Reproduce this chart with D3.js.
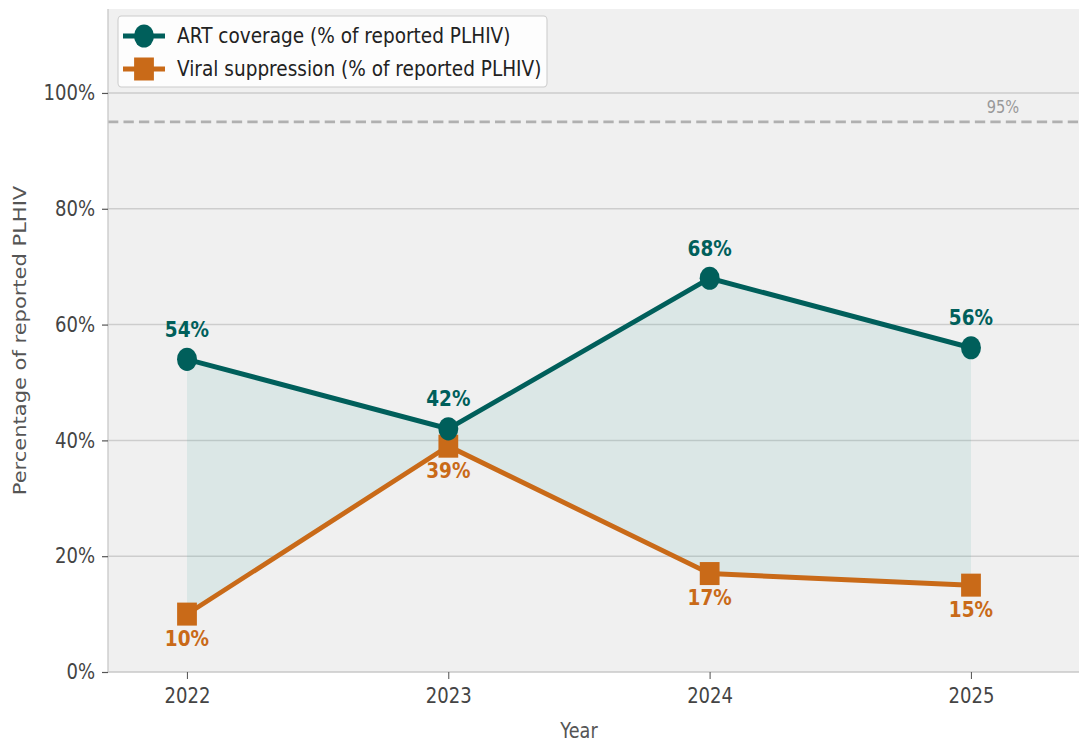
<!DOCTYPE html>
<html>
<head>
	<meta charset="UTF-8">
	<title>ART coverage and viral suppression</title>
	<script src="https://cdn.jsdelivr.net/npm/d3@7"></script>
	<style>
		body { margin: 0; background: #fff; }
		text { font-family: "DejaVu Sans", sans-serif; }
	</style>
</head>
<body>
	<script type="text/javascript">
		// data
		var years = [2022, 2023, 2024, 2025];
		var artCoverage = [54, 42, 68, 56];
		var viralSuppression = [10, 39, 17, 15];
		var yTicks = [0, 20, 40, 60, 80, 100];
		var target = 95;
		var seriesNames = ["ART coverage (% of reported PLHIV)", "Viral suppression (% of reported PLHIV)"];

		var teal = "#005f5b", orange = "#c96a18";

		// the picture is slightly squeezed sideways, so draw wide and squash
		var sx = 0.86;
		var W = 1079 / sx, H = 742;
		var svg = d3.select("body")
					.append("svg")
					.attr("width", 1079)
					.attr("height", H)
					.attr("viewBox", "0 0 " + W + " " + H)
					.attr("preserveAspectRatio", "none");

		var plotLeft = 108 / sx, plotRight = W, plotTop = 9, plotBottom = 672;

		var x = d3.scaleLinear()
					.domain([2022 - 79 / 261.33, 2025 + 108 / 261.33])
					.range([plotLeft, plotRight]);
		var y = d3.scaleLinear()
					.domain([0, 114.5])
					.range([plotBottom, plotTop]);

		// plot background
		svg.append("rect")
			.attr("x", plotLeft).attr("y", plotTop)
			.attr("width", plotRight - plotLeft).attr("height", plotBottom - plotTop)
			.attr("fill", "#f0f0f0");

		// grid
		svg.append("g").selectAll("line")
			.data(yTicks.slice(1))
			.enter().append("line")
			.attr("x1", plotLeft).attr("x2", plotRight)
			.attr("y1", function(d) { return y(d); })
			.attr("y2", function(d) { return y(d); })
			.attr("stroke", "#cdcdcd")
			.attr("stroke-width", 1.5);

		// 95% target line
		svg.append("line")
			.attr("x1", plotLeft).attr("x2", plotRight)
			.attr("y1", y(target)).attr("y2", y(target))
			.attr("stroke", "#b0b0b0")
			.attr("stroke-width", 2.6)
			.attr("stroke-dasharray", "12,6");
		svg.append("text")
			.attr("x", 1003 / sx)
			.attr("y", y(target) - 15)
			.attr("text-anchor", "middle")
			.attr("dominant-baseline", "central")
			.attr("font-size", 17)
			.attr("fill", "#999")
			.text(target + "%");

		// fill between the two series
		var area = d3.area()
					.x(function(d, i) { return x(years[i]); })
					.y0(function(d, i) { return y(viralSuppression[i]); })
					.y1(function(d) { return y(d); });
		svg.append("path")
			.attr("d", area(artCoverage))
			.attr("fill", "#2a9a98")
			.attr("fill-opacity", 0.1);

		var line = d3.line()
					.x(function(d, i) { return x(years[i]); })
					.y(function(d) { return y(d); });

		// viral suppression
		svg.append("path")
			.attr("d", line(viralSuppression))
			.attr("fill", "none")
			.attr("stroke", orange)
			.attr("stroke-width", 5)
			.attr("stroke-linejoin", "round");
		svg.append("g").selectAll("rect")
			.data(viralSuppression)
			.enter().append("rect")
			.attr("x", function(d, i) { return x(years[i]) - 11.5; })
			.attr("y", function(d) { return y(d) - 11.5; })
			.attr("width", 23).attr("height", 23)
			.attr("fill", orange);

		// ART coverage
		svg.append("path")
			.attr("d", line(artCoverage))
			.attr("fill", "none")
			.attr("stroke", teal)
			.attr("stroke-width", 5)
			.attr("stroke-linejoin", "round");
		svg.append("g").selectAll("circle")
			.data(artCoverage)
			.enter().append("circle")
			.attr("cx", function(d, i) { return x(years[i]); })
			.attr("cy", function(d) { return y(d); })
			.attr("r", 11.6)
			.attr("fill", teal);

		// value labels
		svg.append("g").selectAll("text")
			.data(artCoverage)
			.enter().append("text")
			.attr("x", function(d, i) { return x(years[i]); })
			.attr("y", function(d) { return y(d) - 30; })
			.attr("text-anchor", "middle")
			.attr("dominant-baseline", "central")
			.attr("font-size", 21.5)
			.attr("font-weight", "bold")
			.attr("fill", teal)
			.text(function(d) { return d + "%"; });
		svg.append("g").selectAll("text")
			.data(viralSuppression)
			.enter().append("text")
			.attr("x", function(d, i) { return x(years[i]); })
			.attr("y", function(d) { return y(d) + 24; })
			.attr("text-anchor", "middle")
			.attr("dominant-baseline", "central")
			.attr("font-size", 21.5)
			.attr("font-weight", "bold")
			.attr("fill", orange)
			.text(function(d) { return d + "%"; });

		// axes
		var yAxis = svg.append("g")
			.attr("transform", "translate(" + plotLeft + ",0)")
			.call(d3.axisLeft(y).tickValues(yTicks).tickSize(7).tickPadding(8)
				.tickFormat(function(d) { return d + "%"; }));
		var xAxis = svg.append("g")
			.attr("transform", "translate(0," + plotBottom + ")")
			.call(d3.axisBottom(x).tickValues(years).tickSize(7).tickPadding(9)
				.tickFormat(d3.format("d")));
		[yAxis, xAxis].forEach(function(a) {
			a.select(".domain").attr("stroke", "#c8c8c8").attr("stroke-width", 1.5);
			a.selectAll(".tick line").attr("stroke", "#555").attr("stroke-width", 1.2);
			a.selectAll(".tick text").attr("font-size", 21).attr("fill", "#444")
				.attr("font-family", "DejaVu Sans");
		});
		yAxis.select(".domain").attr("d", "M0," + plotTop + "V" + plotBottom);
		xAxis.select(".domain").attr("d", "M" + plotLeft + ",0H" + plotRight);

		// axis titles
		svg.append("text")
			.attr("x", x((years[0] + years[3]) / 2))
			.attr("y", 731)
			.attr("text-anchor", "middle")
			.attr("dominant-baseline", "central")
			.attr("font-size", 20.5)
			.attr("fill", "#555")
			.text("Year");
		svg.append("text")
			.attr("transform", "translate(" + (20 / sx) + "," + ((plotTop + plotBottom) / 2) + ") rotate(-90)")
			.attr("text-anchor", "middle")
			.attr("dominant-baseline", "central")
			.attr("font-size", 21)
			.attr("fill", "#555")
			.text("Percentage of reported PLHIV");

		// legend
		var legend = svg.append("g");
		legend.append("rect")
			.attr("x", 118 / sx).attr("y", 16)
			.attr("width", (547 - 118) / sx).attr("height", 71)
			.attr("rx", 4)
			.attr("fill", "#fff").attr("fill-opacity", 0.85)
			.attr("stroke", "#cccccc").attr("stroke-width", 1.2);
		var rowY = [36, 69];
		legend.append("line")
			.attr("x1", 123 / sx).attr("x2", 165 / sx)
			.attr("y1", rowY[0]).attr("y2", rowY[0])
			.attr("stroke", teal).attr("stroke-width", 5);
		legend.append("circle")
			.attr("cx", 144 / sx).attr("cy", rowY[0]).attr("r", 11.6)
			.attr("fill", teal);
		legend.append("line")
			.attr("x1", 123 / sx).attr("x2", 165 / sx)
			.attr("y1", rowY[1]).attr("y2", rowY[1])
			.attr("stroke", orange).attr("stroke-width", 5);
		legend.append("rect")
			.attr("x", 144 / sx - 11.5).attr("y", rowY[1] - 11.5)
			.attr("width", 23).attr("height", 23)
			.attr("fill", orange);
		legend.selectAll("text.lbl")
			.data(seriesNames)
			.enter().append("text")
			.attr("class", "lbl")
			.attr("x", 177 / sx)
			.attr("y", function(d, i) { return rowY[i]; })
			.attr("dominant-baseline", "central")
			.attr("font-size", 21.5)
			.attr("fill", "#222")
			.text(function(d) { return d; });
	</script>
</body>
</html>
